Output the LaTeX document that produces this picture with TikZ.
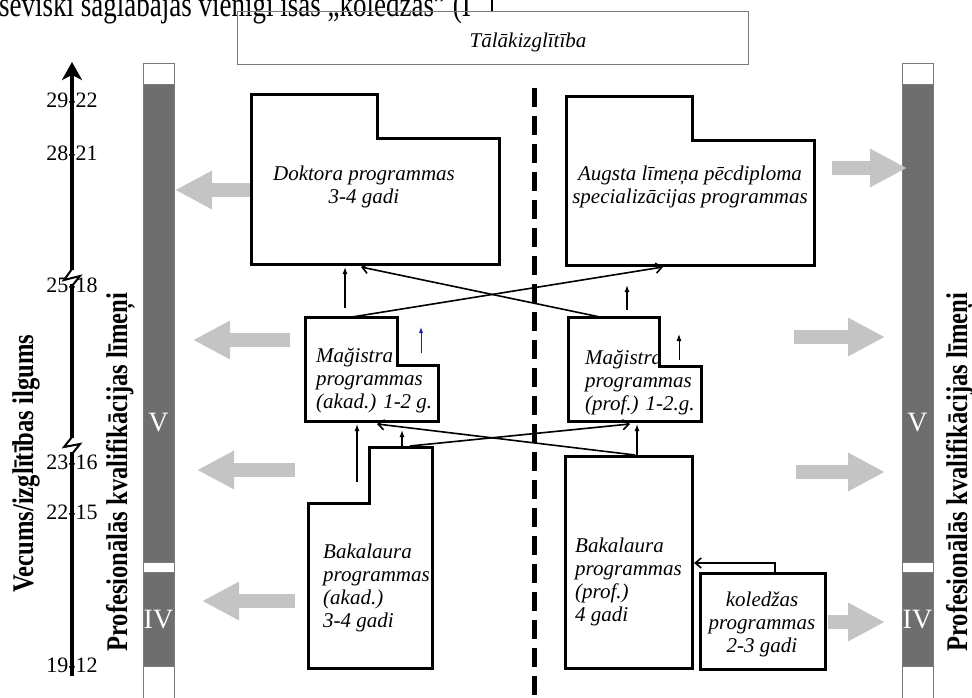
\documentclass[tikz,border=0pt]{standalone}
\usepackage{fontspec}
\setmainfont{Liberation Serif}
\usepackage{graphicx}
\usetikzlibrary{arrows.meta}
\definecolor{bargray}{HTML}{6E6E6E}
\definecolor{arrgray}{HTML}{C4C4C4}
\definecolor{edgegray}{HTML}{7A7A7A}
\definecolor{darkblue}{HTML}{1E1EB4}
\begin{document}
\begin{tikzpicture}[x=1pt,y=-1pt,
  prog/.style={draw=black,line width=3pt,line join=miter,fill=white},
  lbl/.style={font=\fontsize{21}{23}\selectfont\itshape,inner sep=0pt},
  garr/.style={draw=arrgray,fill=arrgray,line width=14pt,-{Triangle[length=37pt,width=36pt]}},
  conn/.style={line width=1.6pt,-{Straight Barb[length=6pt,width=10pt]}},
  vconn/.style={line width=1.3pt,-{Latex[length=7pt,width=5pt]}},
  ticklbl/.style={font=\fontsize{22}{22}\selectfont,inner sep=0pt},
  vtext/.style={rotate=90,anchor=base west,inner sep=0pt,font=\fontsize{30}{30}\selectfont\bfseries},
  barlbl/.style={text=white,font=\fontsize{28}{28}\selectfont,inner sep=0pt},
  barseg/.style={draw=edgegray,line width=0.8pt},
]
\useasboundingbox (0,0) rectangle (972,698);

% ---- clipped fragment of text at the top
\begin{scope}
\clip (0,0) rectangle (972,698);
\node[anchor=base west,inner sep=0pt,font=\fontsize{27}{27}\selectfont] (toptxt) at (-1,17)
  {\scalebox{1}[1.3]{seviški saglabājas vienīgi īsās „koledžas” (I}};
\end{scope}
\draw[line width=1.8pt] (492,-2) -- (492,12);

% ---- Tālākizglītība
\draw[draw=edgegray,line width=1pt] (237,12) rectangle (748,65);
\node[lbl,anchor=base] (talak) at (528,48) {Tālākizglītība};

% ---- bars
\foreach \bx in {143,902} {
  \filldraw[barseg,fill=white] (\bx,63) rectangle ++(31,21);
  \filldraw[barseg,fill=bargray] (\bx,84) rectangle ++(31,478);
  \filldraw[barseg,fill=white] (\bx,562) rectangle ++(31,10);
  \filldraw[barseg,fill=bargray] (\bx,572) rectangle ++(31,94);
  \filldraw[barseg,fill=white] (\bx,666) rectangle ++(31,40);
}
\node[barlbl] (vL) at (158.5,423) {V};
\node[barlbl] (ivL) at (158.5,620) {IV};
\node[barlbl] (vR) at (917.5,423) {V};
\node[barlbl] (ivR) at (917.5,620) {IV};

% ---- rotated titles
\node[vtext] (vecums) at (33,593) {\scalebox{0.82}[1]{Vecums/izglītības ilgums}};
\node[vtext] (profL) at (127,652) {\scalebox{0.82}[1]{Profesionālās kvalifikācijas līmeņi}};
\node[vtext] (profR) at (967,652) {\scalebox{0.82}[1]{Profesionālās kvalifikācijas līmeņi}};

% ---- age axis
\node[ticklbl] (t1) at (72,100) {29-22};
\node[ticklbl] (t2) at (72,153) {28-21};
\node[ticklbl] (t3) at (72,285) {25-18};
\node[ticklbl] (t4) at (72,462) {23-16};
\node[ticklbl] (t5) at (72,512) {22-15};
\node[ticklbl] (t6) at (72,665) {19-12};
\coordinate (axB) at (72,676);
\coordinate (axT) at (72,62);
\draw[line width=3.5pt] (axB) -- (72,452);
\draw[line width=2pt,line join=miter] (72,454) -- (80,444) -- (64,447) -- (72,437);
\draw[line width=3.5pt] (72,438) -- (72,284);
\draw[line width=2pt,line join=miter] (72,286) -- (80,276) -- (64,280) -- (72,269);
\draw[line width=3.5pt,-{Stealth[length=18pt,width=20pt,inset=5pt]}] (72,270) -- (axT);

% ---- central dashed divider
\coordinate (dT) at (534,88);
\coordinate (dB) at (534,704);
\draw[line width=5pt,dash pattern=on 19pt off 9pt] (dT) -- (dB);

% ---- grey block arrows
\coordinate (gL1s) at (251,190); \coordinate (gL1e) at (175,190);
\coordinate (gL2s) at (290,340); \coordinate (gL2e) at (193,340);
\coordinate (gL3s) at (295,470); \coordinate (gL3e) at (197,470);
\coordinate (gL4s) at (295,601); \coordinate (gL4e) at (202,601);
\coordinate (gR1s) at (832,168); \coordinate (gR1e) at (907,168);
\coordinate (gR2s) at (794,337); \coordinate (gR2e) at (885,337);
\coordinate (gR3s) at (796,472); \coordinate (gR3e) at (885,472);
\coordinate (gR4s) at (828,622); \coordinate (gR4e) at (885,622);
\foreach \a in {L1,L2,L3,L4,R1,R2,R3,R4} { \draw[garr] (g\a s) -- (g\a e); }

% ---- programme boxes
\draw[prog] (251,95) -- (377,95) -- (377,139) -- (499,139) -- (499,264) -- (251,264) -- cycle;
\draw[prog] (566,97) -- (692,97) -- (692,141) -- (814,141) -- (814,265) -- (566,265) -- cycle;
\draw[prog] (305,317) -- (397,317) -- (397,365) -- (438,365) -- (438,421) -- (305,421) -- cycle;
\draw[prog] (568,317) -- (659,317) -- (659,366) -- (701,366) -- (701,421) -- (568,421) -- cycle;
\draw[prog] (369,447) -- (432,447) -- (432,668) -- (308,668) -- (308,503) -- (369,503) -- cycle;
\draw[prog] (565,456) rectangle (692,668);
\draw[prog] (700,573) rectangle (825,669);

\node[lbl,align=center] (doktxt) at (364,187) {Doktora programmas\\3-4 gadi};
\node[lbl,align=center] (augtxt) at (690,187) {Augsta līmeņa pēcdiploma\\specializācijas programmas};
\node[lbl,align=left,anchor=west] (makad) at (316,381) {Mağistra\\programmas\\(akad.) 1-2 g.};
\node[lbl,align=left,anchor=west] (mprof) at (585,383) {Mağistra\\programmas\\(prof.) 1-2.g.};
\node[lbl,align=left,anchor=west] (bakad) at (323,588) {Bakalaura\\programmas\\(akad.)\\3-4 gadi};
\node[lbl,align=left,anchor=west] (bprof) at (575,582) {Bakalaura\\programmas\\(prof.)\\4 gadi};
\node[lbl,align=center] (koled) at (762,624) {koledžas\\programmas\\2-3 gadi};

% ---- connector end points
\coordinate (docB1) at (345,267);
\coordinate (docB2) at (361,267);
\coordinate (augB)  at (663,267);
\coordinate (makT)  at (352,317);
\coordinate (mprT)  at (600,317);
\coordinate (a1s) at (345,308);
\coordinate (a2s) at (627,310); \coordinate (a2e) at (627,285);
\coordinate (blS) at (421,353); \coordinate (blE) at (421,327);
\coordinate (smS) at (679,360); \coordinate (smE) at (679,334);
\coordinate (a3s) at (357,482); \coordinate (a3e) at (357,424);
\coordinate (a4s) at (402,446); \coordinate (a4e) at (402,430);
\coordinate (bakT) at (410,446); \coordinate (mprB) at (630,424);
\coordinate (bprT) at (635,455); \coordinate (makB) at (377,424);
\coordinate (bprT2) at (637,455); \coordinate (mprB2) at (637,424);
\coordinate (kolT) at (775,573); \coordinate (bprR) at (694,563);

% ---- connectors
\draw[vconn] (a1s) -- (docB1);
\draw[conn] (makT) -- (augB);
\draw[conn] (mprT) -- (docB2);
\draw[vconn] (a2s) -- (a2e);
\draw[line width=0.8pt,darkblue,-{Latex[length=6pt,width=4pt]}] (blS) -- (blE);
\draw[vconn,line width=1pt] (smS) -- (smE);
\draw[vconn] (a3s) -- (a3e);
\draw[vconn] (a4s) -- (a4e);
\draw[conn] (bakT) -- (mprB);
\draw[conn] (bprT) -- (makB);
\draw[vconn] (bprT2) -- (mprB2);
\draw[conn] (kolT) |- (bprR);
\end{tikzpicture}
\end{document}
